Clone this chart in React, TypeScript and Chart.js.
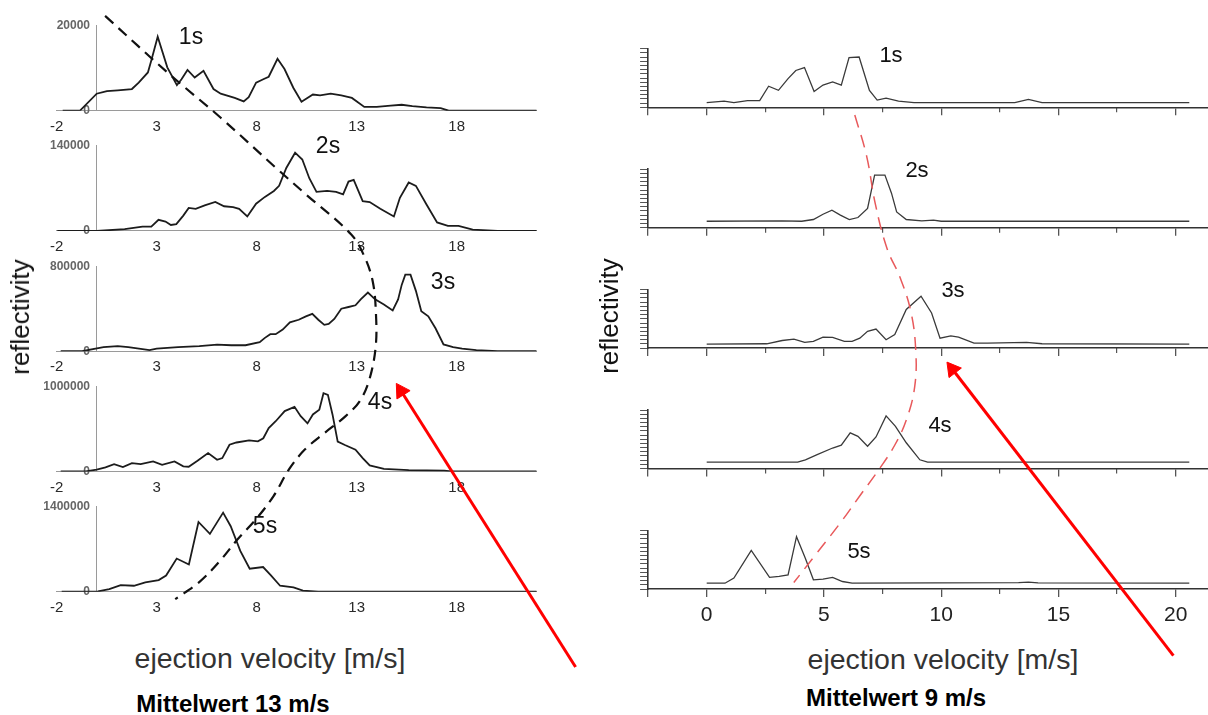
import React, { useEffect, useRef } from 'react';
import { Chart, registerables } from 'chart.js';

Chart.register(...registerables);
Chart.defaults.font.family = "'Liberation Sans', Arial, Helvetica, sans-serif";

type Pt = [number, number];

// ---------------- data ----------------
const TIME_LABELS = ['1s', '2s', '3s', '4s', '5s'];
const LEFT_Y_MAX = [20000, 140000, 800000, 1000000, 1400000];
const LEFT_X_TICKS = [-2, 3, 8, 13, 18];
const RIGHT_X_MAJOR = [0, 5, 10, 15, 20];
const RIGHT_X_MINOR = [2.5, 7.5, 12.5, 17.5];
const RIGHT_Y_DIVISIONS = 14;

// left panel: ejection velocity [m/s] vs reflectivity (absolute)
const LEFT_1S: Pt[] = [[-1.7,0],[-0.82,100],[0,4000],[0.51,4600],[1.05,4800],[1.76,5100],[2.1,6600],[2.56,9000],[2.73,11800],[3.05,17400],[3.53,10200],[4.01,6000],[4.24,7400],[4.54,9600],[4.9,7800],[5.34,9400],[5.84,5100],[6.2,4000],[6.9,3000],[7.35,2200],[7.6,3200],[7.97,6600],[8.33,7400],[8.6,8000],[9.04,12200],[9.39,9800],[9.83,5400],[10.24,2100],[10.81,3800],[11.17,3600],[11.7,4000],[12.23,3600],[12.76,3000],[13.38,900],[14.0,900],[14.7,1200],[15.25,1400],[15.78,1100],[16.49,800],[17.2,600],[17.6,0],[22,0]];
const LEFT_2S: Pt[] = [[-1.97,0],[0,0],[1.4,2800],[2.29,7000],[2.73,7000],[3.09,18200],[3.44,15400],[3.71,9800],[3.98,11200],[4.33,25200],[4.6,37800],[4.95,36400],[5.4,42000],[5.93,47600],[6.37,40600],[6.82,39200],[7.12,36400],[7.53,23800],[7.97,44800],[8.41,56000],[8.86,65800],[9.12,74200],[9.48,103600],[9.92,128800],[10.28,117600],[10.63,86800],[10.99,64400],[11.52,65800],[11.97,64400],[12.32,60200],[12.59,81200],[12.85,84000],[13.3,49000],[13.65,47600],[14.18,36400],[14.86,23800],[15.16,54600],[15.6,79800],[15.96,74200],[16.49,43400],[17.02,14000],[17.56,8400],[18.09,8400],[18.8,2240],[20.04,0],[22,0]];
const LEFT_3S: Pt[] = [[-1.8,0],[-0.73,0],[0.34,37600],[1.05,48000],[1.58,37600],[2.64,9600],[3.0,24000],[4.07,37600],[5.13,48000],[6.02,62400],[6.73,56000],[7.44,56000],[8.15,84800],[8.41,125600],[8.68,160000],[8.95,160000],[9.3,204000],[9.66,272000],[10.1,296000],[10.46,328000],[10.78,352000],[11.08,296000],[11.38,248000],[11.6,256000],[11.88,304000],[12.23,400000],[12.59,416000],[12.94,432000],[13.2,488000],[13.56,552000],[13.92,488000],[14.36,440000],[14.8,384000],[15.07,488000],[15.25,624000],[15.43,720000],[15.69,720000],[15.96,568000],[16.23,376000],[16.58,328000],[16.94,216000],[17.34,64000],[17.82,37600],[18.27,24000],[18.98,9600],[20.04,0],[22,0]];
const LEFT_4S: Pt[] = [[-1.8,0],[-0.55,0],[0,20000],[0.44,47000],[0.87,86000],[1.31,50000],[1.76,98000],[2.2,86000],[2.82,118000],[3.27,78000],[3.89,118000],[4.33,60000],[4.6,55000],[5.04,125000],[5.57,216000],[6.02,137000],[6.28,157000],[6.64,314000],[6.99,340000],[7.62,365000],[8.06,353000],[8.33,390000],[8.6,510000],[8.95,590000],[9.4,710000],[9.89,760000],[10.2,650000],[10.54,565000],[10.81,670000],[11.13,725000],[11.34,920000],[11.56,900000],[11.79,670000],[12.05,350000],[12.41,310000],[12.94,255000],[13.3,157000],[13.65,70000],[14.36,30000],[15.6,16000],[17.38,8000],[17.73,0],[22,0]];
const LEFT_5S: Pt[] = [[-1.75,0],[-0.6,0],[0.06,5600],[0.63,42000],[1.2,109200],[1.86,98000],[2.43,154000],[3.1,191800],[3.47,266000],[4.0,546000],[4.61,448000],[5.09,1148000],[5.66,952000],[6.32,1302000],[6.7,1078000],[7.18,672000],[7.65,378000],[8.32,406000],[8.7,273000],[9.17,98000],[9.84,70000],[10.31,16800],[11.07,0],[22,0]];
const LEFT_SERIES = [LEFT_1S, LEFT_2S, LEFT_3S, LEFT_4S, LEFT_5S];

// right panel: ejection velocity [m/s] vs relative reflectivity
const RIGHT_1S: Pt[] = [[0,0.079],[0.74,0.107],[1.16,0.079],[1.74,0.113],[2.26,0.113],[2.64,0.36],[3.06,0.29],[3.47,0.49],[3.8,0.63],[4.17,0.68],[4.58,0.27],[4.96,0.38],[5.37,0.435],[5.74,0.38],[6.07,0.85],[6.5,0.86],[6.94,0.29],[7.27,0.124],[7.65,0.158],[8.18,0.107],[8.84,0.079],[13.14,0.079],[13.72,0.136],[14.3,0.079],[20.58,0.079]];
const RIGHT_2S: Pt[] = [[0,0.11],[3.22,0.116],[4.05,0.11],[4.55,0.14],[4.96,0.23],[5.34,0.3],[5.7,0.215],[6.08,0.14],[6.45,0.174],[6.86,0.33],[7.16,0.9],[7.6,0.9],[7.88,0.59],[8.1,0.27],[8.51,0.14],[9.17,0.116],[9.67,0.128],[10.0,0.11],[20.58,0.11]];
const RIGHT_3S: Pt[] = [[0,0.069],[2.56,0.074],[3.22,0.13],[3.72,0.154],[4.18,0.097],[4.55,0.114],[4.96,0.189],[5.37,0.183],[5.87,0.114],[6.2,0.114],[6.53,0.17],[6.86,0.286],[7.22,0.326],[7.65,0.143],[8.02,0.23],[8.51,0.66],[9.14,0.886],[9.59,0.6],[9.95,0.17],[10.41,0.21],[10.74,0.189],[11.4,0.086],[11.98,0.086],[13.64,0.097],[14.3,0.074],[20.58,0.069]];
const RIGHT_4S: Pt[] = [[0,0.109],[3.88,0.109],[4.21,0.149],[4.71,0.236],[5.37,0.35],[5.74,0.4],[6.12,0.61],[6.45,0.55],[6.86,0.38],[7.22,0.54],[7.65,0.9],[8.05,0.72],[8.51,0.44],[9.09,0.149],[9.42,0.109],[20.58,0.109]];
const RIGHT_5S: Pt[] = [[0,0.099],[0.78,0.099],[1.16,0.186],[1.9,0.66],[2.68,0.2],[3.09,0.215],[3.47,0.24],[3.83,0.895],[4.21,0.52],[4.55,0.157],[4.96,0.17],[5.37,0.2],[5.79,0.128],[6.2,0.099],[13.3,0.11],[13.72,0.116],[14.13,0.105],[20.58,0.099]];
const RIGHT_SERIES = [RIGHT_1S, RIGHT_2S, RIGHT_3S, RIGHT_4S, RIGHT_5S];

// trend curves: [velocity, time (s)]
const LEFT_TREND: Pt[] = [[0.0,0.13],[3.265,0.628],[5.865,0.999],[8.665,1.427],[10.115,1.643],[12.515,2.0],[13.215,2.2],[13.615,2.408],[13.765,2.657],[13.765,2.948],[13.465,3.223],[12.965,3.422],[12.215,3.556],[11.165,3.697],[10.165,3.838],[9.365,4.005],[8.565,4.238],[7.665,4.437],[6.715,4.612],[5.865,4.787],[4.815,4.97],[3.565,5.12]];
const RIGHT_TREND: Pt[] = [[6.495,1.006],[7.006,1.355],[7.39,1.77],[7.9,2.15],[8.45,2.39],[8.925,2.684],[9.138,3.016],[9.096,3.323],[8.755,3.597],[8.243,3.821],[7.561,4.029],[6.708,4.261],[5.855,4.494],[4.704,4.785],[3.851,5.0]];
const LEFT_ARROW: Pt[] = [[23.92,5.70],[15.05,3.339]];
const RIGHT_ARROW: Pt[] = [[20.31,5.624],[10.73,3.178]];

// ---------------- layout ----------------
const PAGE_W = 1208;
const PAGE_H = 715;
const L_ZERO_PX = 96.7;
const L_PX = 20;
const L_MIN = -2;
const L_MAX = 22;
const L_BASE = [110.7, 230.9, 351.2, 471.4, 591.7];
const L_H = 85;
const L_CANVAS_W = 560;
const R_ZERO_PX = 706.7;
const R_PX = 23.45;
const R_MIN = -2.5;
const R_MAX = (PAGE_W - R_ZERO_PX) / R_PX;
const R_BASE = [107.3, 227.7, 348.1, 468.5, 589];
const R_H = 58.5;
const R_CANVAS_L = 620;
const R_YW = 12;
const FONT = "'Liberation Sans', Arial, Helvetica, sans-serif";

const toXY = (pts: Pt[]) => pts.map(([x, y]) => ({ x, y }));

function leftGeom(i: number) {
  const top = Math.round(L_BASE[i] - L_H - 14);
  const areaBottom = L_BASE[i] - top;
  const height = Math.ceil(areaBottom + 28);
  return { top, height, padTop: L_BASE[i] - L_H - top, xh: height - areaBottom };
}

function rightGeom(i: number) {
  const top = Math.round(R_BASE[i] - R_H - 10);
  const areaBottom = R_BASE[i] - top;
  const height = Math.ceil(areaBottom + 38);
  return { top, height, padTop: R_BASE[i] - R_H - top, xh: height - areaBottom };
}

function leftConfig(i: number): any {
  const g = leftGeom(i);
  const max = LEFT_Y_MAX[i];
  const x0 = L_ZERO_PX + L_MIN * L_PX;
  const x1 = L_ZERO_PX + L_MAX * L_PX;
  return {
    type: 'line',
    data: {
      datasets: [{
        data: toXY(LEFT_SERIES[i]), xAxisID: 'x', yAxisID: 'y',
        borderColor: '#1c1c1c', borderWidth: 1.8, pointRadius: 0, tension: 0,
      }],
    },
    options: {
      animation: false, responsive: false, events: [],
      layout: { padding: { left: x0, right: L_CANVAS_W - x1, top: g.padTop, bottom: 0 } },
      plugins: { legend: { display: false }, tooltip: { enabled: false } },
      scales: {
        x: {
          type: 'linear', min: L_MIN, max: L_MAX, position: 'bottom',
          afterBuildTicks: (s: any) => { s.ticks = LEFT_X_TICKS.map((v) => ({ value: v })); },
          afterFit: (s: any) => { s.height = g.xh; },
          grid: { display: false, drawTicks: false },
          border: { display: true, color: '#9a9a9a', dash: [1, 2], width: 1 },
          ticks: { font: { size: 15 }, color: '#2a2a2a', padding: 7, autoSkip: false, maxRotation: 0, callback: (v: any) => String(v) },
        },
        y: {
          type: 'linear', min: 0, max, position: { x: 0 },
          afterBuildTicks: (s: any) => { s.ticks = [{ value: 0 }, { value: max }]; },
          afterFit: (s: any) => { s.width = 0; },
          grid: { display: false, drawTicks: false },
          border: { display: true, color: '#9a9a9a', dash: [1, 2], width: 1 },
          ticks: { font: { size: 12, weight: 'bold' }, color: '#666', callback: (v: any) => String(v) + '  ' },
        },
      },
    },
  };
}

function rightConfig(i: number): any {
  const g = rightGeom(i);
  const areaLeft = R_ZERO_PX + R_MIN * R_PX;
  const showLabels = i === 4;
  return {
    type: 'line',
    data: {
      datasets: [{
        data: toXY(RIGHT_SERIES[i]), xAxisID: 'x', yAxisID: 'y',
        borderColor: '#3a3a3a', borderWidth: 1.3, pointRadius: 0, tension: 0,
      }],
    },
    options: {
      animation: false, responsive: false, events: [],
      layout: { padding: { left: areaLeft - R_CANVAS_L - R_YW, right: 0, top: g.padTop, bottom: 0 } },
      plugins: { legend: { display: false }, tooltip: { enabled: false } },
      scales: {
        x: {
          type: 'linear', min: R_MIN, max: R_MAX, position: 'bottom', weight: 0,
          afterBuildTicks: (s: any) => { s.ticks = [R_MIN, ...RIGHT_X_MAJOR].map((v) => ({ value: v })); },
          afterFit: (s: any) => { s.height = g.xh; },
          grid: { drawOnChartArea: false, drawTicks: true, tickLength: 8, color: '#555', lineWidth: 1.3 },
          border: { display: true, color: '#333', width: 1.6 },
          ticks: {
            font: { size: 21 }, color: '#222', padding: 6, autoSkip: false, maxRotation: 0,
            callback: (v: any) => (showLabels && v >= 0 ? String(v) : ''),
          },
        },
        x2: {
          type: 'linear', min: R_MIN, max: R_MAX, position: 'bottom', weight: -1,
          afterBuildTicks: (s: any) => { s.ticks = RIGHT_X_MINOR.map((v) => ({ value: v })); },
          afterFit: (s: any) => { s.height = 0; },
          grid: { drawOnChartArea: false, drawTicks: true, tickLength: 5, color: '#555', lineWidth: 1.2 },
          border: { display: false },
          ticks: { display: false },
        },
        y: {
          type: 'linear', min: 0, max: 1, position: 'left',
          afterBuildTicks: (s: any) => {
            const t = [];
            for (let k = 0; k <= RIGHT_Y_DIVISIONS; k++) t.push({ value: k / RIGHT_Y_DIVISIONS });
            s.ticks = t;
          },
          afterFit: (s: any) => { s.width = R_YW; },
          grid: { drawOnChartArea: false, drawTicks: true, tickLength: 8, color: '#555', lineWidth: 1 },
          border: { display: true, color: '#333', width: 1.6 },
          ticks: { display: false },
        },
      },
    },
  };
}

function arrowRotation(xid: string, yid: string) {
  return (ctx: any) => {
    const d = ctx.dataset.data;
    const xs = ctx.chart.scales[xid];
    const ys = ctx.chart.scales[yid];
    if (!xs || !ys) return 0;
    const dx = xs.getPixelForValue(d[1].x) - xs.getPixelForValue(d[0].x);
    const dy = ys.getPixelForValue(d[1].y) - ys.getPixelForValue(d[0].y);
    return (Math.atan2(dx, -dy) * 180) / Math.PI;
  };
}

function overlayConfig(): any {
  const lGap = (L_BASE[4] - L_BASE[0]) / 4;
  const rGap = (R_BASE[4] - R_BASE[0]) / 4;
  const hidden = { display: false };
  return {
    type: 'scatter',
    data: {
      datasets: [
        {
          data: toXY(LEFT_TREND), xAxisID: 'xl', yAxisID: 'yl', showLine: true,
          borderColor: '#111', borderWidth: 2.2, borderDash: [11, 7], pointRadius: 0, tension: 0.35,
        },
        {
          data: toXY(RIGHT_TREND), xAxisID: 'xr', yAxisID: 'yr', showLine: true,
          borderColor: '#e8595b', borderWidth: 1.5, borderDash: [13, 8], pointRadius: 0, tension: 0.4,
        },
        {
          data: toXY(LEFT_ARROW), xAxisID: 'xl', yAxisID: 'yl', showLine: true,
          borderColor: '#ff0000', borderWidth: 3, pointStyle: 'triangle', pointRadius: [0, 9],
          pointBackgroundColor: '#ff0000', pointBorderColor: '#ff0000', pointBorderWidth: 1,
          pointRotation: arrowRotation('xl', 'yl'),
        },
        {
          data: toXY(RIGHT_ARROW), xAxisID: 'xr', yAxisID: 'yr', showLine: true,
          borderColor: '#ff0000', borderWidth: 3, pointStyle: 'triangle', pointRadius: [0, 9],
          pointBackgroundColor: '#ff0000', pointBorderColor: '#ff0000', pointBorderWidth: 1,
          pointRotation: arrowRotation('xr', 'yr'),
        },
      ],
    },
    options: {
      animation: false, responsive: false, events: [],
      layout: { padding: 0 },
      plugins: { legend: { display: false }, tooltip: { enabled: false } },
      scales: {
        xl: { type: 'linear', ...hidden, min: -L_ZERO_PX / L_PX, max: (PAGE_W - L_ZERO_PX) / L_PX },
        xr: { type: 'linear', ...hidden, min: -R_ZERO_PX / R_PX, max: (PAGE_W - R_ZERO_PX) / R_PX },
        yl: { type: 'linear', ...hidden, reverse: true, min: 1 - L_BASE[0] / lGap, max: 1 + (PAGE_H - L_BASE[0]) / lGap },
        yr: { type: 'linear', ...hidden, reverse: true, min: 1 - R_BASE[0] / rGap, max: 1 + (PAGE_H - R_BASE[0]) / rGap },
      },
    },
  };
}

function ChartBox({ x, y, w, h, make }: { x: number; y: number; w: number; h: number; make: () => any }) {
  const ref = useRef<HTMLCanvasElement>(null);
  useEffect(() => {
    const chart = new Chart(ref.current as HTMLCanvasElement, make());
    return () => chart.destroy();
  }, []);
  return (
    <canvas
      ref={ref}
      width={w}
      height={h}
      style={{ position: 'absolute', left: x, top: y, width: w, height: h, pointerEvents: 'none' }}
    />
  );
}

function Label({ x, y, text, size, bold, color, rotate }: any) {
  return (
    <div
      style={{
        position: 'absolute', left: x, top: y,
        transform: `translate(-50%, -50%)${rotate ? ' rotate(-90deg)' : ''}`,
        fontFamily: FONT, fontSize: size, fontWeight: bold ? 700 : 400,
        color: color || '#111', whiteSpace: 'nowrap', lineHeight: 1,
      }}
    >
      {text}
    </div>
  );
}

const LEFT_TIME_POS: Pt[] = [[191, 36], [328, 145], [443, 281], [380, 401], [265, 525]];
const RIGHT_TIME_POS: Pt[] = [[891, 55], [917, 170], [953, 290], [940, 425], [859, 551]];

export default function App() {
  return (
    <div style={{ position: 'absolute', left: 0, top: 0, width: PAGE_W, height: PAGE_H, background: '#fff', overflow: 'hidden' }}>
      {LEFT_SERIES.map((_, i) => {
        const g = leftGeom(i);
        return <ChartBox key={'l' + i} x={0} y={g.top} w={L_CANVAS_W} h={g.height} make={() => leftConfig(i)} />;
      })}
      {RIGHT_SERIES.map((_, i) => {
        const g = rightGeom(i);
        return <ChartBox key={'r' + i} x={R_CANVAS_L} y={g.top} w={PAGE_W - R_CANVAS_L} h={g.height} make={() => rightConfig(i)} />;
      })}
      {TIME_LABELS.map((t, i) => (
        <Label key={'lt' + i} x={LEFT_TIME_POS[i][0]} y={LEFT_TIME_POS[i][1]} text={t} size={23} />
      ))}
      {TIME_LABELS.map((t, i) => (
        <Label key={'rt' + i} x={RIGHT_TIME_POS[i][0]} y={RIGHT_TIME_POS[i][1]} text={t} size={22} />
      ))}
      <Label x={20} y={317} text="reflectivity" size={26} rotate />
      <Label x={609} y={316} text="reflectivity" size={26} rotate />
      <Label x={270} y={658} text="ejection velocity [m/s]" size={28.5} color="#333" />
      <Label x={943} y={659} text="ejection velocity [m/s]" size={28.5} color="#333" />
      <Label x={233} y={704} text="Mittelwert 13 m/s" size={24} bold color="#000" />
      <Label x={896} y={698} text="Mittelwert 9 m/s" size={24} bold color="#000" />
      <ChartBox x={0} y={0} w={PAGE_W} h={PAGE_H} make={overlayConfig} />
    </div>
  );
}
